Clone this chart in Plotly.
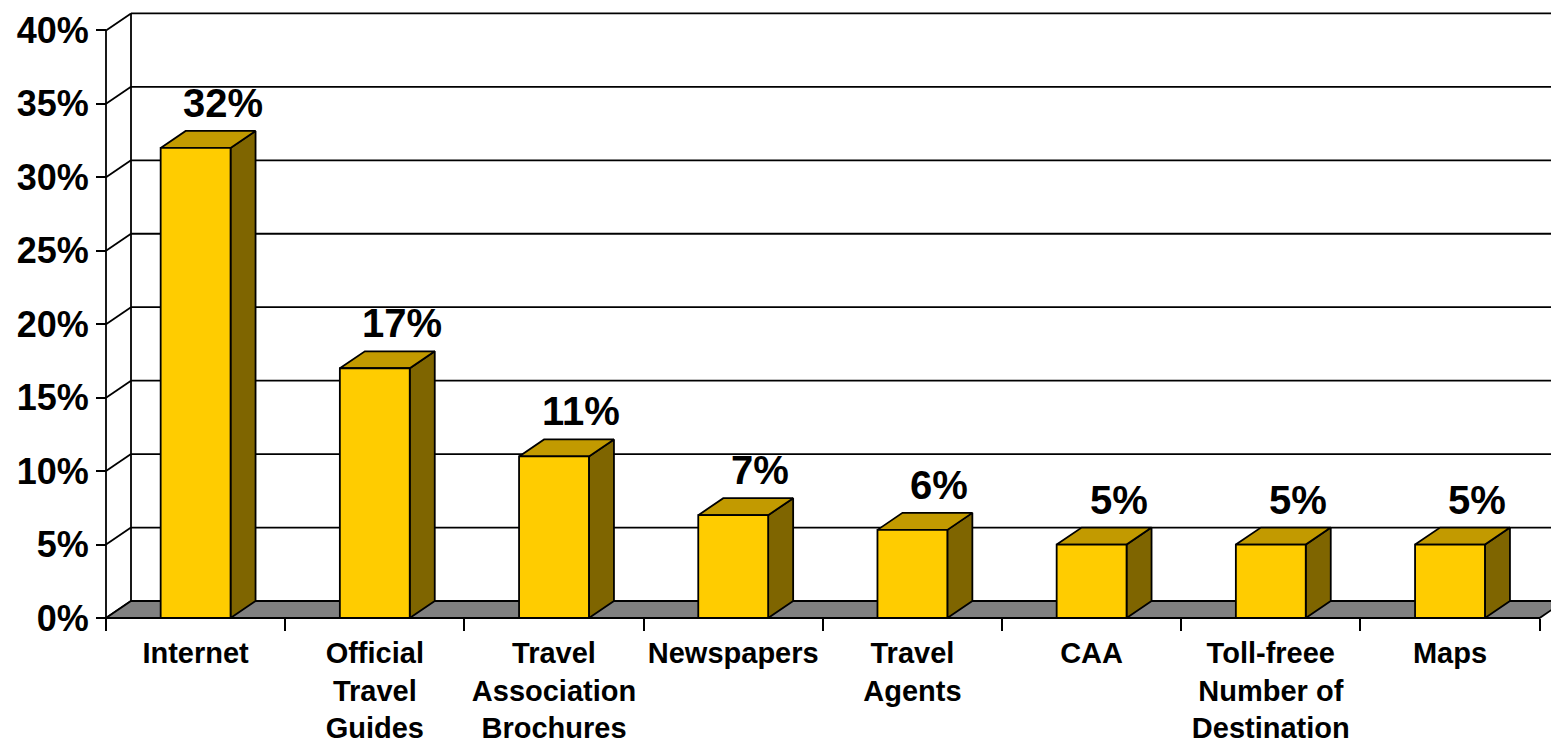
import plotly.graph_objects as go

# ---- data -------------------------------------------------------------
categories = [
    "Internet",
    "Official<br>Travel<br>Guides",
    "Travel<br>Association<br>Brochures",
    "Newspapers",
    "Travel<br>Agents",
    "CAA",
    "Toll-freee<br>Number of<br>Destination",
    "Maps",
]
shares = [32, 17, 11, 7, 6, 5, 5, 5]
y_ticks = [0, 5, 10, 15, 20, 25, 30, 35, 40]
y_tick_labels = [f"{t}%" for t in y_ticks]

# ---- geometry / style -------------------------------------------------
W, H = 1551, 743
ML, MR, MT, MB = 100, 0, 7, 119
X_RANGE = [-0.5335, 7.5636]
Y_RANGE = [-0.408, 41.593]
DX, DY = 0.1395, 1.157          # depth offset of the 3-D box (data units)
BAR_W = 0.39
LINE_W = 1.8
FRONT, TOP, SIDE = "#FFCC00", "#C29A00", "#7F6500"
FLOOR = "#808080"
FONT = "Liberation Sans, Arial, sans-serif"

y_zero_pos = (0 - Y_RANGE[0]) / (Y_RANGE[1] - Y_RANGE[0])
x_left_pos = (-0.5 - X_RANGE[0]) / (X_RANGE[1] - X_RANGE[0])
y_top = y_ticks[-1]
n = len(categories)

fig = go.Figure()


def polygon(xs, ys, fill):
    fig.add_trace(go.Scatter(
        x=xs + [xs[0]], y=ys + [ys[0]], mode="lines", fill="toself",
        fillcolor=fill, line=dict(color="black", width=LINE_W),
        hoverinfo="skip", showlegend=False))


# back wall gridlines, left wall diagonals and edges
gx, gy = [], []
for t in y_ticks[1:]:
    gx += [-0.5 + DX, X_RANGE[1], None]
    gy += [t + DY, t + DY, None]
for t in y_ticks:
    gx += [-0.5, -0.5 + DX, None]
    gy += [t, t + DY, None]
gx += [-0.5 + DX, -0.5 + DX, None, -0.5, -0.5, None]
gy += [DY, y_top + DY, None, 0, y_top, None]
fig.add_trace(go.Scatter(x=gx, y=gy, mode="lines",
                         line=dict(color="black", width=LINE_W),
                         hoverinfo="skip", showlegend=False))

# floor
polygon([-0.5, n - 0.5, n - 0.5 + DX, -0.5 + DX], [0, 0, DY, DY], FLOOR)

# 3-D bars
for i, v in enumerate(shares):
    x0, x1 = i - BAR_W / 2, i + BAR_W / 2
    polygon([x1, x1 + DX, x1 + DX, x1], [0, DY, v + DY, v], SIDE)
    polygon([x0, x1, x1 + DX, x0 + DX], [v, v, v + DY, v + DY], TOP)
    polygon([x0, x1, x1, x0], [0, 0, v, v], FRONT)

# helper trace so the boundary-tick axis is rendered
fig.add_trace(go.Scatter(x=[0], y=[0], xaxis="x2", yaxis="y", mode="markers",
                         marker=dict(opacity=0), hoverinfo="skip",
                         showlegend=False))

# value labels
for i, v in enumerate(shares):
    fig.add_annotation(x=i, y=v, text=f"{v}%", showarrow=False,
                       xshift=27, yshift=45, yanchor="middle",
                       font=dict(family=FONT, size=40, color="black",
                                 weight="bold"))

fig.update_layout(
    width=W, height=H,
    margin=dict(l=ML, r=MR, t=MT, b=MB, pad=0, autoexpand=False),
    paper_bgcolor="white", plot_bgcolor="white",
    showlegend=False, hovermode=False,
    xaxis=dict(range=X_RANGE, anchor="free", position=y_zero_pos,
               automargin=False,
               tickmode="array", tickvals=list(range(n)), ticktext=categories,
               ticks="outside", ticklen=9, tickcolor="rgba(0,0,0,0)",
               showgrid=False, zeroline=False, showline=False,
               tickfont=dict(family=FONT, size=29, color="black",
                             weight="bold")),
    xaxis2=dict(range=X_RANGE, overlaying="x", anchor="free",
                position=y_zero_pos, automargin=False, tickmode="array",
                tickvals=[i - 0.5 for i in range(n + 1)],
                ticks="outside", ticklen=12, tickwidth=2, tickcolor="black",
                showticklabels=False, showgrid=False, zeroline=False,
                showline=False),
    yaxis=dict(range=Y_RANGE, anchor="free", position=x_left_pos,
               automargin=False,
               tickmode="array", tickvals=y_ticks, ticktext=y_tick_labels,
               ticks="outside", ticklen=10, tickwidth=2, tickcolor="black",
               showgrid=False, zeroline=False, showline=False,
               tickfont=dict(family=FONT, size=36, color="black",
                             weight="bold")),
)

fig.write_html("out.html")
